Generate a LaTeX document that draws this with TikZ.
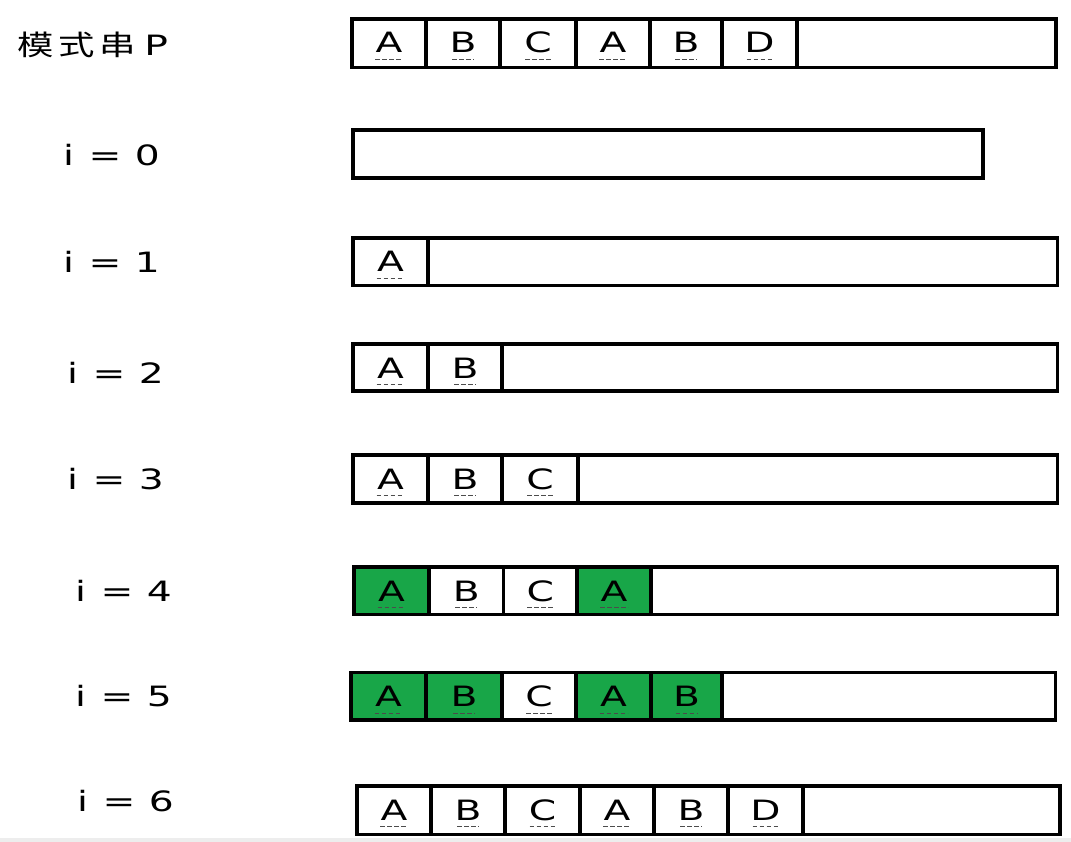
\documentclass[tikz,border=0pt]{standalone}
\usepackage{fontspec}
\newfontfamily\latinf[FakeStretch=1.4]{DejaVu Sans}
\newfontfamily\cjkf[FakeStretch=1.3]{Noto Sans CJK SC}
\definecolor{kmpgreen}{RGB}{24,166,72}
\tikzset{
  frame/.style={line width=3.5pt, draw=black},
  letter/.style={anchor=base, inner sep=0pt, font=\latinf\fontsize{28}{28}\selectfont},
  lbl/.style={anchor=base west, inner sep=0pt, font=\latinf\fontsize{28}{28}\selectfont},
  uline/.style={line width=1pt, dash pattern=on 4.5pt off 2.5pt, draw=black!70}
}
\newcommand\KLet[6]{%
  \node[letter] (#1) at ({(#2+#3)/2},{#4+34}) {#5};
  \draw[uline] ([xshift=-#6pt,yshift=-6.5pt]#1.base) -- ([xshift=#6pt,yshift=-6.5pt]#1.base);
}
\begin{document}
\begin{tikzpicture}[x=1pt,y=-1pt]
\useasboundingbox (0,0) rectangle (1071,842);
\fill[white] (0,0) rectangle (1071,842);
\fill[black!7] (0,838) rectangle (1071,842);

% labels
\node[anchor=base west, inner sep=0pt] (lp) at (17,56) {\fontsize{28}{28}\selectfont\cjkf 模\hspace{5pt}式\hspace{5pt}串\hspace{8pt}\latinf\fontsize{28}{28}\selectfont P};
\node[lbl] (l0) at (63,166) {i\hspace{2pt} = \hspace{1pt}0};
\node[lbl] (l1) at (63,273) {i\hspace{2pt} = \hspace{1pt}1};
\node[lbl] (l2) at (67,383) {i\hspace{2pt} = \hspace{1pt}2};
\node[lbl] (l3) at (67,489) {i\hspace{2pt} = \hspace{1pt}3};
\node[lbl] (l4) at (75,601) {i\hspace{2pt} = \hspace{1pt}4};
\node[lbl] (l5) at (75,706) {i\hspace{2pt} = \hspace{1pt}5};
\node[lbl] (l6) at (77,811) {i\hspace{2pt} = \hspace{1pt}6};

% pattern row P
\draw[frame] (352,19) rectangle (1056,67.5);
\foreach \x in {426,500,576,650,722,797} \draw[frame] (\x,19) -- (\x,67.5);
\KLet{p1}{352}{426}{19}{A}{14}
\KLet{p2}{426}{500}{19}{B}{11}
\KLet{p3}{500}{576}{19}{C}{13}
\KLet{p4}{576}{650}{19}{A}{14}
\KLet{p5}{650}{722}{19}{B}{11}
\KLet{p6}{722}{797}{19}{D}{13}

% i = 0
\draw[frame] (353,130) rectangle (983,178);

% i = 1
\draw[frame] (353,238) rectangle (1057.5,285.5);
\draw[frame] (428,238) -- (428,285.5);
\KLet{a1}{353}{428}{238}{A}{14}

% i = 2
\draw[frame] (353,344) rectangle (1057.5,391);
\foreach \x in {428,502} \draw[frame] (\x,344) -- (\x,391);
\KLet{b1}{353}{428}{344}{A}{14}
\KLet{b2}{428}{502}{344}{B}{11}

% i = 3
\draw[frame] (353,455) rectangle (1057.5,503);
\foreach \x in {428,502,578} \draw[frame] (\x,455) -- (\x,503);
\KLet{c1}{353}{428}{455}{A}{14}
\KLet{c2}{428}{502}{455}{B}{11}
\KLet{c3}{502}{578}{455}{C}{13}

% i = 4
\fill[kmpgreen] (354,567) rectangle (429,614.5);
\fill[kmpgreen] (577,567) rectangle (651,614.5);
\draw[frame] (354,567) rectangle (1057.5,614.5);
\foreach \x in {429,503.5,577,651} \draw[frame] (\x,567) -- (\x,614.5);
\KLet{d1}{354}{429}{567}{A}{14}
\KLet{d2}{429}{503.5}{567}{B}{11}
\KLet{d3}{503.5}{577}{567}{C}{13}
\KLet{d4}{577}{651}{567}{A}{14}

% i = 5
\fill[kmpgreen] (351,672.5) rectangle (502,720);
\fill[kmpgreen] (576,672.5) rectangle (722,720);
\draw[frame] (351,672.5) rectangle (1055.5,720);
\foreach \x in {426,502,576,651,722} \draw[frame] (\x,672.5) -- (\x,720);
\KLet{e1}{351}{426}{672.5}{A}{14}
\KLet{e2}{426}{502}{672.5}{B}{11}
\KLet{e3}{502}{576}{672.5}{C}{13}
\KLet{e4}{576}{651}{672.5}{A}{14}
\KLet{e5}{651}{722}{672.5}{B}{11}

% i = 6
\draw[frame] (357,786) rectangle (1060,834.5);
\foreach \x in {431,505,580,654,728,803} \draw[frame] (\x,786) -- (\x,834.5);
\KLet{f1}{357}{431}{786}{A}{14}
\KLet{f2}{431}{505}{786}{B}{11}
\KLet{f3}{505}{580}{786}{C}{13}
\KLet{f4}{580}{654}{786}{A}{14}
\KLet{f5}{654}{728}{786}{B}{11}
\KLet{f6}{728}{803}{786}{D}{13}
\end{tikzpicture}
\end{document}
